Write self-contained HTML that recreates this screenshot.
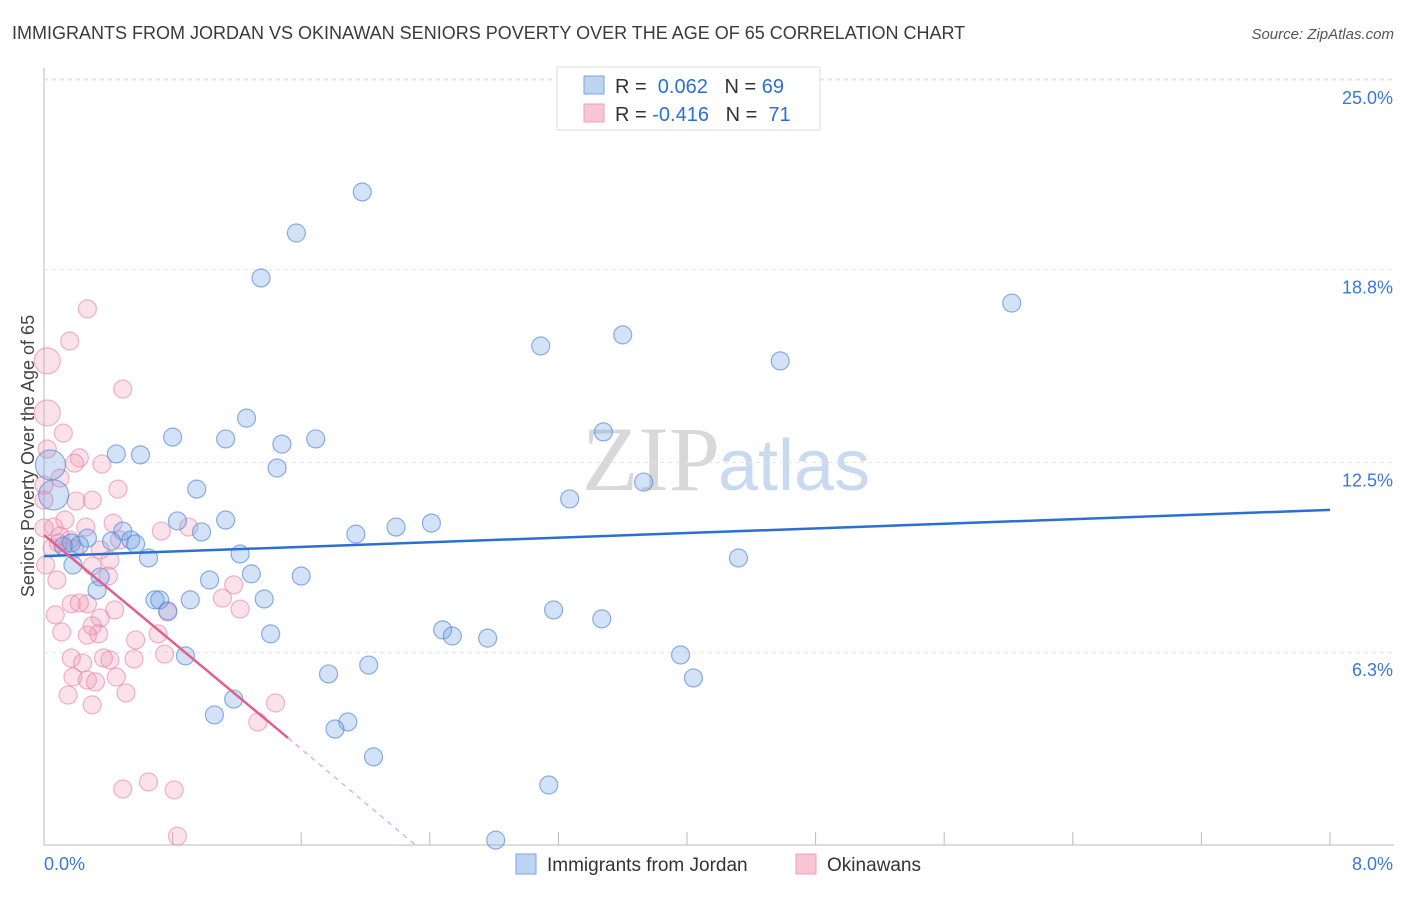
<!DOCTYPE html>
<html><head><meta charset="utf-8"><style>
body{margin:0;background:#fff;font-family:"Liberation Sans",sans-serif}
#wrap{position:relative;width:1406px;height:892px}
</style></head><body>
<div id="wrap">
<svg id="svg" width="1406" height="892">
<text x="12" y="39" font-size="18" fill="#3a3a3a">IMMIGRANTS FROM JORDAN VS OKINAWAN SENIORS POVERTY OVER THE AGE OF 65 CORRELATION CHART</text>
<text x="1394" y="39" font-size="15" fill="#555" font-style="italic" text-anchor="end">Source: ZipAtlas.com</text>
<text x="720" y="490" font-size="92" fill="#d8d8d8" text-anchor="end" font-family="Liberation Serif,serif">ZIP</text>
<text x="718" y="490" font-size="72" fill="#c8daf0">atlas</text>
<text transform="translate(34,456) rotate(-90)" font-size="18" fill="#444" text-anchor="middle">Seniors Poverty Over the Age of 65</text>
<g id="grid"></g><g id="pts"></g><g id="lines"></g>
<g>
<rect x="557" y="67" width="263" height="63" fill="#fff" stroke="#ddd"/>
<rect x="584" y="76" width="20" height="18" fill="#bcd3f2" stroke="#7aa4e0"/>
<rect x="584" y="104" width="20" height="18" fill="#f7c5d4" stroke="#eea0b8"/>
<text x="615" y="93" font-size="20" fill="#333">R = <tspan fill="#2c6fd6">&#160;0.062</tspan>&#160;&#160;&#160;N = <tspan fill="#2c6fd6">69</tspan></text>
<text x="615" y="121" font-size="20" fill="#333">R = <tspan fill="#2c6fd6">-0.416</tspan>&#160;&#160;&#160;N = <tspan fill="#2c6fd6">&#160;71</tspan></text>
</g>
<g>
<rect x="516" y="854" width="20" height="20" fill="#bcd3f2" stroke="#7aa4e0"/>
<text x="547" y="871" font-size="19" fill="#333">Immigrants from Jordan</text>
<rect x="796" y="854" width="20" height="20" fill="#f7c5d4" stroke="#eea0b8"/>
<text x="827" y="871" font-size="19" fill="#333">Okinawans</text>
</g>
</svg>
</div>
<script>
const xTicks=[0,0.8,1.6,2.4,3.2,4.0,4.8,5.6,6.4,7.2,8.0];
const yTicks=[6.3,12.5,18.8,25.0];
const yTickLabels=["6.3%","12.5%","18.8%","25.0%"];
const xLabels=["0.0%","8.0%"];
const blueX=[1.98,1.57,1.35,6.02,3.60,3.09,4.58,1.26,0.80,1.13,1.48,1.69,3.48,0.45,0.60,1.45,0.95,3.73,3.27,0.06,0.04,0.83,1.13,2.41,2.19,0.98,1.94,0.49,0.27,0.42,0.54,0.57,0.12,0.17,0.22,0.65,1.22,4.32,0.18,0.35,1.03,1.29,1.60,0.33,0.69,0.72,0.91,1.37,0.77,3.17,3.47,2.48,2.54,2.76,1.41,0.88,3.96,2.02,1.77,4.04,1.18,1.06,1.89,1.81,2.05,3.14,2.81];
const blueY=[21.34,20.0,18.53,17.71,16.67,16.31,15.82,13.95,13.33,13.27,13.10,13.27,13.50,12.78,12.75,12.32,11.63,11.86,11.31,11.44,12.42,10.59,10.62,10.52,10.39,10.23,10.16,10.26,10.03,9.93,9.97,9.84,9.77,9.87,9.80,9.38,9.51,9.38,9.15,8.76,8.66,8.86,8.79,8.33,8.01,8.01,8.01,8.04,7.65,7.68,7.39,7.03,6.83,6.76,6.90,6.18,6.21,5.88,5.59,5.46,4.77,4.25,4.02,3.79,2.88,1.96,0.16];
const blueBig=[19,20];
const pinkX=[0.27,0.16,0.02,0.49,0.02,0.12,0.02,0.22,0.36,0.19,0.10,0.00,0.46,0.30,0.20,0.00,0.06,0.26,0.43,0.73,0.90,0.10,0.16,0.09,0.19,0.35,0.30,0.08,0.40,1.18,1.11,1.22,0.17,0.27,0.22,0.07,0.77,0.44,0.35,0.30,0.11,0.34,0.27,0.71,0.57,0.17,0.24,0.37,0.41,0.56,0.75,0.18,0.27,0.32,0.45,0.15,0.51,0.30,1.44,1.33,0.49,0.65,0.81,0.83,0.05,0.01,0.13,0.00,0.47,0.41];
const pinkY=[17.52,16.47,15.82,14.90,14.12,13.46,12.94,12.65,12.45,12.48,11.99,11.76,11.63,11.27,11.24,11.27,10.39,10.39,10.52,10.26,10.39,10.10,9.97,9.87,9.67,9.64,9.12,8.66,8.79,8.50,8.07,7.71,7.88,7.88,7.91,7.52,7.61,7.68,7.42,7.16,6.96,6.90,6.86,6.90,6.70,6.11,5.95,6.11,6.05,6.08,6.24,5.49,5.39,5.33,5.49,4.90,4.97,4.58,4.64,4.02,1.83,2.06,1.80,0.29,9.71,9.15,10.62,10.36,9.97,9.31];
const pinkBig=[2,4];
const blueLine=[[0,9.44],[8,10.95]];
const pinkLine=[[0,10.13],[1.518,3.50]];
const pinkDash=[[1.518,3.50],[2.31,0]];
const NS="http://www.w3.org/2000/svg";
const sx=v=>44+v*1286/8, sy=v=>845-v*30.6;
function mk(t,a,p){const e=document.createElementNS(NS,t);for(const k in a)e.setAttribute(k,a[k]);p.appendChild(e);return e;}
const grid=document.getElementById('grid'),pts=document.getElementById('pts'),lines=document.getElementById('lines'),svg=document.getElementById('svg');
let ax=mk('line',{x1:44,y1:68,x2:44,y2:845,stroke:'#bbb'},grid);


let bx=mk('line',{x1:44,y1:845,x2:1394,y2:845,stroke:'#bbb'},grid);


mk('line',{x1:44,y1:79,x2:1394,y2:79,stroke:'#e4e4e4','stroke-dasharray':'4,4'},grid);
yTicks.forEach((v,i)=>{
 const g=mk('line',{x1:44,y1:sy(v),x2:1394,y2:sy(v),stroke:'#e4e4e4','stroke-dasharray':'4,4'},grid);
 
 
 const t=mk('text',{x:1393,y:sy(v)+24,'font-size':18,fill:'#3a78d8','text-anchor':'end'},grid);
 t.textContent=yTickLabels[i];
 
 
});
xTicks.forEach(v=>{
 const t=mk('line',{x1:sx(v),y1:832,x2:sx(v),y2:845,stroke:'#bbb'},grid);
 
 
});
[[xLabels[0],44,'start'],[xLabels[1],1393,'end']].forEach(([s,x,a])=>{
 const t=mk('text',{x:x,y:870,'font-size':18,fill:'#3a78d8','text-anchor':a},grid);
 t.textContent=s;
 
 
});
pinkX.forEach((x,i)=>{
 const c=mk('circle',{cx:sx(x),cy:sy(pinkY[i]),r:pinkBig.includes(i)?13:9,fill:'rgba(242,150,180,0.28)',stroke:'rgba(232,130,165,0.6)','stroke-width':1.2},pts);
 
 
});
blueX.forEach((x,i)=>{
 const c=mk('circle',{cx:sx(x),cy:sy(blueY[i]),r:blueBig.includes(i)?15:9,fill:'rgba(110,160,230,0.3)',stroke:'rgba(80,135,215,0.65)','stroke-width':1.2},pts);
 
 
});
let l1=mk('line',{x1:sx(blueLine[0][0]),y1:sy(blueLine[0][1]),x2:sx(blueLine[1][0]),y2:sy(blueLine[1][1]),stroke:'#2a6fd4','stroke-width':2.5},lines);


let l2=mk('line',{x1:sx(pinkLine[0][0]),y1:sy(pinkLine[0][1]),x2:sx(pinkLine[1][0]),y2:sy(pinkLine[1][1]),stroke:'#e0608a','stroke-width':2.5},lines);


let l3=mk('line',{x1:sx(pinkDash[0][0]),y1:sy(pinkDash[0][1]),x2:sx(pinkDash[1][0]),y2:sy(pinkDash[1][1]),stroke:'#eaa0b8','stroke-width':1.2,'stroke-dasharray':'5,5'},lines);


</script>
</body></html>
